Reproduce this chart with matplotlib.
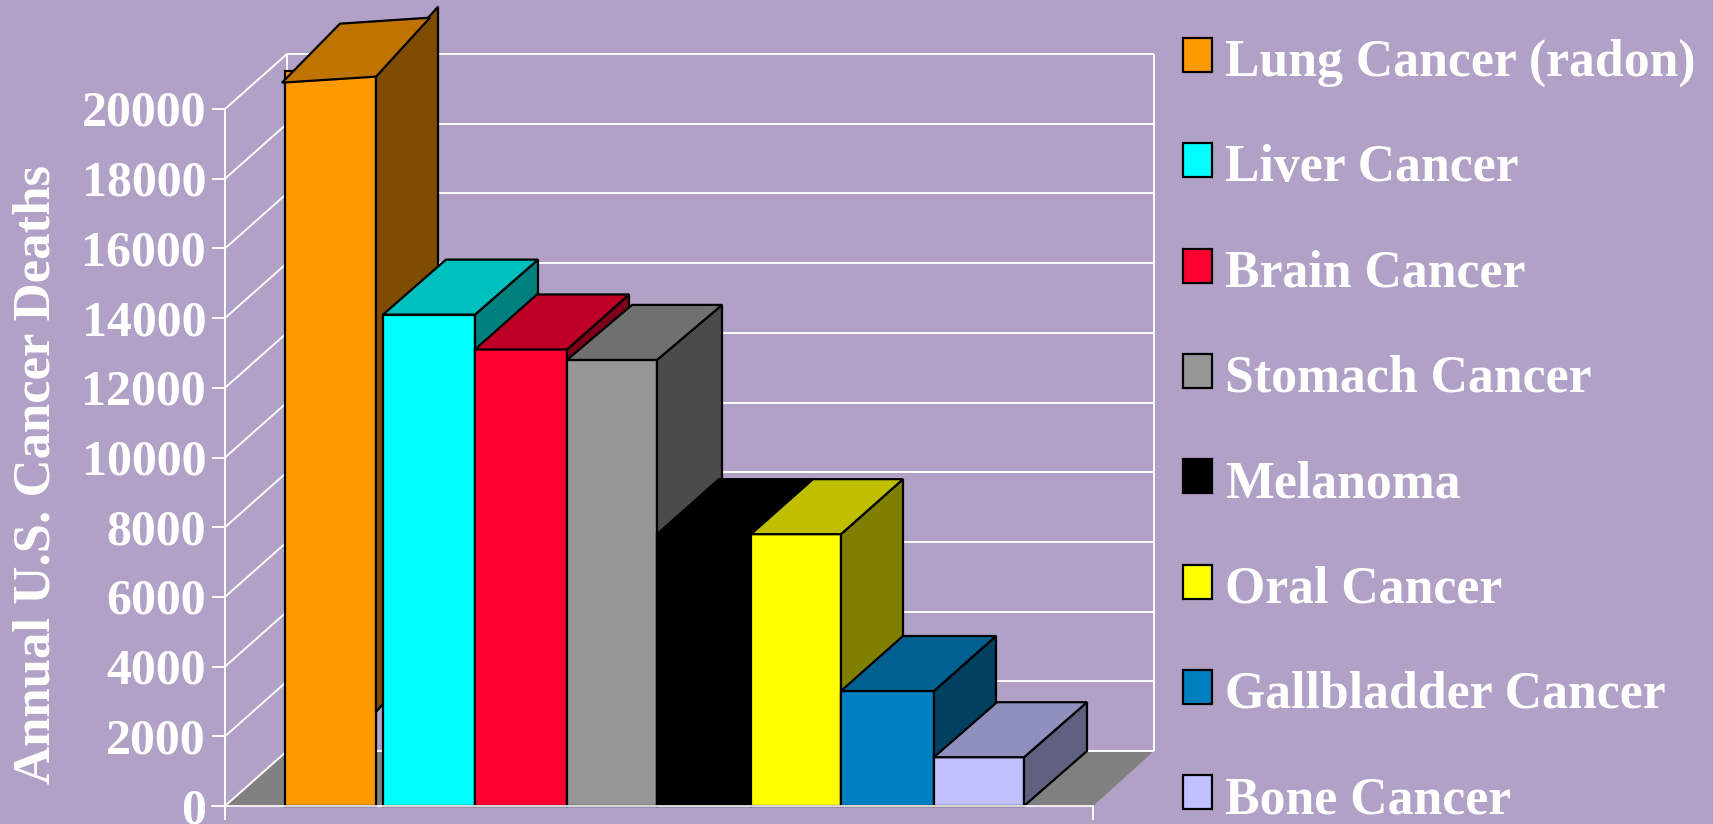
import matplotlib
matplotlib.use("Agg")
import matplotlib.pyplot as plt
from matplotlib.patches import Polygon, Rectangle

# ---- data ----
categories = ["Lung Cancer (radon)", "Liver Cancer", "Brain Cancer", "Stomach Cancer",
              "Melanoma", "Oral Cancer", "Gallbladder Cancer", "Bone Cancer"]
deaths = [21100, 14100, 13100, 12800, 7800, 7800, 3300, 1400]
y_ticks = [0, 2000, 4000, 6000, 8000, 10000, 12000, 14000, 16000, 18000, 20000]
y_title = "Annual U.S. Cancer Deaths"

# ---- styles ----
front_colors = ["#FF9900", "#00FFFF", "#FF0033", "#969696", "#000000", "#FFFF00", "#0080C0", "#C0C0FF"]
top_colors = ["#BF7300", "#00BFBF", "#BF0026", "#707070", "#000000", "#BFBF00", "#006090", "#9090BF"]
side_colors = ["#7F4C00", "#007F7F", "#7F0019", "#4B4B4B", "#000000", "#7F7F00", "#004060", "#606080"]
BG = "#B1A1C6"
FLOOR = "#808080"
FONT = "Liberation Serif"

# ---- layout (pixels of the 1713x824 canvas) ----
W, H = 1713, 824
BASE_PX, TOP_PX = 806, 109
K = 20000 / (BASE_PX - TOP_PX)      # deaths per pixel
DX, DY = 62, 55 * K                 # 3D depth offset
WALL_L, WALL_R = 225, 1093
bar_lefts = [285, 383, 475, 567, 657, 751, 841, 934]
bar_rights = [376, 475, 567, 657, 751, 841, 934, 1024]
bar_depths = [62, 63, 62, 65, 62, 62, 62, 63]
side_base = [2700, 0, 0, 0, 0, 0, 0, 0]   # lung side stops short of the floor in the original

fig = plt.figure(figsize=(W / 100, H / 100), dpi=100, facecolor=BG)
ax = fig.add_axes([0, 0, 1, 1])
ax.set_xlim(0, W)
ax.set_ylim(-(H - BASE_PX) * K, BASE_PX * K)
ax.axis("off")

EDGE = dict(edgecolor="black", linewidth=1.6, joinstyle="miter")
WHITE = dict(color="white", linewidth=1.4, solid_capstyle="butt")

# floor
ax.add_patch(Polygon([(WALL_L, 0), (WALL_L + DX, DY), (WALL_R + DX - 1, DY), (WALL_R, 0)],
                     facecolor=FLOOR, edgecolor="none", zorder=1))

# walls and grid
top_v = y_ticks[-1]
for v in y_ticks:
    ax.plot([WALL_L - 13, WALL_L], [v, v], zorder=2, **WHITE)
    ax.plot([WALL_L, WALL_L + DX], [v, v + DY], zorder=2, **WHITE)
    ax.plot([WALL_L + DX, WALL_R + DX - 1], [v + DY, v + DY], zorder=2, **WHITE)
    ax.text(WALL_L - 19, v - 17 * K, str(v), ha="right", va="baseline", color="white",
            family=FONT, weight="bold", fontsize=36, zorder=2)
ax.plot([WALL_L, WALL_L], [-14 * K, top_v], zorder=2, **WHITE)
ax.plot([WALL_L + DX] * 2, [DY, top_v + DY], zorder=2, **WHITE)
ax.plot([WALL_R + DX - 1] * 2, [DY, top_v + DY], zorder=2, **WHITE)
ax.plot([WALL_R, WALL_R], [-14 * K, 0], zorder=2, **WHITE)

# bars
for i, v in enumerate(deaths):
    l, r, d = bar_lefts[i], bar_rights[i], bar_depths[i]
    z = 3 + i
    if i == 0:
        # the lung bar's lid is slightly tilted in the original
        f_l, f_r, b_l, b_r = v - 12 * K, v - 6 * K, v + 47 * K, v + 53 * K
        side_top = v + 64 * K
        lid = [(l - 3, f_l), (r, f_r), (r + 54, b_r), (l + 55, b_l)]
        side = [(r, f_r), (r + d, side_top), (r + d, side_base[i] + 70 * K), (r, side_base[i])]
    else:
        lid = [(l, v), (r, v), (r + d, v + DY), (l + d, v + DY)]
        side = [(r, v), (r + d, v + DY), (r + d, side_base[i] + DY), (r, side_base[i])]
    ax.add_patch(Rectangle((l, 0), r - l, v, facecolor=front_colors[i], zorder=z, **EDGE))
    ax.add_patch(Polygon(side, facecolor=side_colors[i], zorder=z, **EDGE))
    ax.add_patch(Polygon(lid, facecolor=top_colors[i], zorder=z, **EDGE))

# baseline over the bars
ax.plot([WALL_L - 13, WALL_R], [0, 0], zorder=20, color="white", linewidth=1.2)

# y axis title
ax.text(37, 331 * K, y_title, rotation=90, ha="center", va="center", color="white",
        family=FONT, weight="bold", fontsize=38)

# legend
for i, name in enumerate(categories):
    py_top = 38 + i * 105.3
    ax.add_patch(Rectangle((1183, (BASE_PX - (py_top + 34)) * K), 29, 34 * K,
                           facecolor=front_colors[i], zorder=3, **EDGE))
    ax.text(1225, (BASE_PX - (py_top + 38)) * K, name, ha="left", va="baseline", color="white",
            family=FONT, weight="bold", fontsize=37.3)

fig.savefig("out.png", dpi=100, facecolor=BG)
